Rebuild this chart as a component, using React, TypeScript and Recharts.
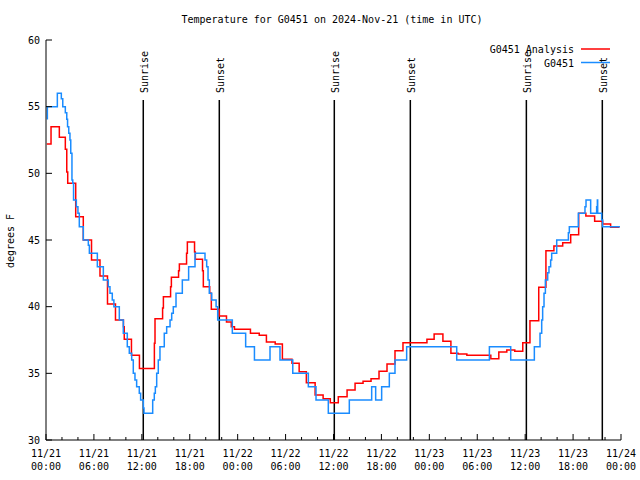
import React from 'react';
import { LineChart, Line, XAxis, YAxis, ReferenceLine } from 'recharts';

// ---- Data (hours since 2024-11-21 00:00 UTC, temperature °F) ----
const analysisSeries: [number, number][] = [
  [0.1, 52.2], [0.63, 53.5], [1.67, 52.7], [2.42, 51.8], [2.6, 50.1], [2.72, 49.25],
  [3.72, 46.75], [4.67, 45.0], [5.7, 43.5], [6.76, 42.3], [7.7, 40.2], [8.7, 39.0],
  [9.7, 38.5], [9.8, 37.55], [10.7, 36.35], [11.7, 35.37], [13.57, 37.25], [13.65, 39.1],
  [14.6, 39.9], [14.7, 40.75], [15.6, 41.5], [15.7, 42.2], [16.6, 42.7], [16.7, 43.2],
  [17.6, 44.0], [17.7, 44.85], [18.6, 44.1], [18.7, 43.55], [19.6, 42.7], [19.7, 41.5],
  [20.5, 41.0], [20.7, 39.8], [21.7, 39.3], [22.6, 38.85], [23.2, 38.5], [23.6, 38.3],
  [25.6, 38.0], [26.7, 37.85], [27.6, 37.35], [28.7, 37.2], [29.6, 36.05], [30.8, 35.75],
  [31.7, 35.12], [32.6, 34.3], [33.7, 33.37], [34.7, 33.1], [35.6, 32.8], [36.6, 33.25],
  [37.7, 33.75], [38.7, 34.25], [39.7, 34.4], [40.7, 34.6], [41.7, 35.15], [42.7, 35.7],
  [43.7, 36.7], [44.7, 37.3], [47.7, 37.55], [48.6, 37.95], [49.7, 37.4], [50.7, 36.5],
  [51.6, 36.45], [52.7, 36.35], [55.7, 36.1], [56.7, 36.6], [57.7, 36.75], [58.7, 36.65],
  [59.7, 37.3], [60.6, 38.95], [61.7, 41.45], [62.6, 44.2], [63.6, 44.55], [64.7, 44.8],
  [65.7, 45.4], [66.7, 47.0], [67.6, 46.8], [68.7, 46.4], [69.7, 46.2], [70.7, 45.95],
  [71.8, 45.95],
];

const observedSeries: [number, number][] = [
  [0.08, 54.1], [0.17, 55.0], [1.42, 56.0], [1.92, 55.6], [2.1, 55.0], [2.42, 54.55],
  [2.6, 54.05], [2.7, 53.5], [2.85, 53.0], [3.0, 52.5], [3.1, 51.5], [3.25, 49.5],
  [3.35, 49.25], [3.45, 48.0], [3.8, 47.5], [4.0, 47.0], [4.17, 46.0], [4.67, 45.0],
  [5.3, 44.6], [5.43, 44.0], [6.43, 43.0], [7.18, 42.0], [7.8, 41.5], [8.01, 41.0],
  [8.3, 40.5], [8.5, 40.0], [9.18, 39.0], [9.68, 38.0], [10.18, 37.0], [10.43, 36.5],
  [10.73, 36.0], [10.93, 35.0], [11.14, 34.5], [11.35, 34.0], [11.68, 33.5], [11.85, 33.0],
  [12.19, 32.4], [12.27, 32.0], [13.36, 33.0], [13.56, 33.5], [13.69, 34.0], [13.86, 35.0],
  [14.06, 36.0], [14.27, 37.0], [14.81, 38.0], [15.11, 38.5], [15.53, 39.0], [15.74, 39.5],
  [15.94, 40.0], [16.28, 41.0], [17.07, 42.0], [17.86, 43.0], [18.66, 44.0], [19.91, 43.5],
  [20.12, 43.0], [20.29, 42.0], [20.45, 41.0], [20.75, 40.5], [21.3, 40.0], [21.5, 39.0],
  [23.33, 38.0], [25.0, 37.0], [26.1, 36.0], [28.05, 37.0], [29.3, 36.0], [30.9, 35.0],
  [32.85, 34.0], [33.81, 33.0], [35.35, 32.0], [37.98, 33.0], [40.78, 34.0], [41.28, 33.0],
  [42.03, 34.0], [42.99, 35.0], [43.7, 36.0], [45.16, 37.0], [51.43, 36.0], [55.52, 37.0],
  [58.19, 36.0], [61.15, 37.0], [61.86, 38.0], [62.07, 39.0], [62.19, 40.0], [62.36, 41.0],
  [62.53, 42.0], [62.82, 42.55], [62.98, 43.0], [63.19, 43.5], [63.32, 44.0], [63.95, 45.0],
  [65.41, 45.55], [65.53, 46.0], [66.66, 47.0], [67.49, 47.5], [67.62, 48.0], [68.2, 47.0],
  [68.95, 47.5], [69.04, 48.0], [69.08, 47.0], [69.58, 46.5], [69.7, 46.0], [71.87, 46.0],
];

const sunEventHours = [12.18, 21.7, 36.1, 45.62, 60.15, 69.66];
const sunEventLabels = ['Sunrise', 'Sunset', 'Sunrise', 'Sunset', 'Sunrise', 'Sunset'];

const majorHours = [0, 6, 12, 18, 24, 30, 36, 42, 48, 54, 60, 66, 72];
const dateLabels = ['11/21', '11/21', '11/21', '11/21', '11/22', '11/22', '11/22', '11/22', '11/23', '11/23', '11/23', '11/23', '11/24'];
const timeLabels = ['00:00', '06:00', '12:00', '18:00', '00:00', '06:00', '12:00', '18:00', '00:00', '06:00', '12:00', '18:00', '00:00'];
const minorHours = [2, 4, 8, 10, 14, 16, 20, 22, 26, 28, 32, 34, 38, 40, 44, 46, 50, 52, 56, 58, 62, 64, 68, 70];
const yTicks = [30, 35, 40, 45, 50, 55, 60];

const TITLE = 'Temperature for G0451 on 2024-Nov-21 (time in UTC)';
const Y_LABEL = 'degrees F';
const SERIES_NAMES = ['G0451 Analysis', 'G0451'];

const FONT = '"DejaVu Sans Mono", "Liberation Mono", monospace';
const RED = '#ff0000';
const BLUE = '#1a8cff';

const allXTicks = [...majorHours, ...minorHours].sort((a, b) => a - b);
const analysisData = analysisSeries.map(([h, t]) => ({ h, t }));
const observedData = observedSeries.map(([h, t]) => ({ h, t }));

const BottomTick = (props: any) => {
  const { x, y, payload } = props;
  const idx = majorHours.indexOf(payload.value);
  const major = idx >= 0;
  return (
    <g>
      <line x1={x} x2={x} y1={y} y2={y - (major ? 6 : 3)} stroke="#000" strokeWidth={1} />
      {major && (
        <text x={x} y={y + 17} textAnchor="middle" fontFamily={FONT} fontSize={10} fill="#000">
          {dateLabels[idx]}
        </text>
      )}
      {major && (
        <text x={x} y={y + 30} textAnchor="middle" fontFamily={FONT} fontSize={10} fill="#000">
          {timeLabels[idx]}
        </text>
      )}
    </g>
  );
};

const TopTick = (props: any) => {
  const { x, y, payload } = props;
  const major = majorHours.indexOf(payload.value) >= 0;
  return <line x1={x} x2={x} y1={y} y2={y + (major ? 6 : 3)} stroke="#000" strokeWidth={1} />;
};

const LeftTick = (props: any) => {
  const { x, y, payload } = props;
  return (
    <g>
      <line x1={x} x2={x + 6} y1={y} y2={y} stroke="#000" strokeWidth={1} />
      <text x={x - 6} y={y} dy="0.35em" textAnchor="end" fontFamily={FONT} fontSize={10} fill="#000">
        {payload.value}
      </text>
    </g>
  );
};

const RightTick = (props: any) => {
  const { x, y } = props;
  return <line x1={x} x2={x - 6} y1={y} y2={y} stroke="#000" strokeWidth={1} />;
};

const SunLabel = (props: any) => {
  const { viewBox, text } = props;
  if (!viewBox) return null;
  const x = viewBox.x + 5;
  const y = viewBox.y - 7;
  return (
    <text x={x} y={y} transform={`rotate(-90, ${x}, ${y})`} textAnchor="start" fontFamily={FONT} fontSize={10} fill="#000">
      {text}
    </text>
  );
};

export default function App() {
  return (
    <div style={{ position: 'absolute', left: 0, top: 0, width: 640, height: 480, background: '#fff' }}>
      <LineChart width={640} height={480} margin={{ top: 40, right: 19, bottom: 0, left: 0 }}>
        <XAxis
          xAxisId="b"
          dataKey="h"
          type="number"
          domain={[0, 72]}
          allowDataOverflow
          ticks={allXTicks}
          interval={0}
          orientation="bottom"
          height={40}
          tickSize={0}
          tickMargin={0}
          tickLine={false}
          axisLine={{ stroke: '#000', strokeWidth: 1 }}
          tick={<BottomTick />}
        />
        <XAxis
          xAxisId="t"
          dataKey="h"
          type="number"
          domain={[0, 72]}
          allowDataOverflow
          ticks={allXTicks}
          interval={0}
          orientation="top"
          height={0}
          tickSize={0}
          tickMargin={0}
          tickLine={false}
          axisLine={{ stroke: '#000', strokeWidth: 1 }}
          tick={<TopTick />}
        />
        <YAxis
          yAxisId="l"
          type="number"
          domain={[30, 60]}
          allowDataOverflow
          ticks={yTicks}
          interval={0}
          width={46}
          tickSize={0}
          tickMargin={0}
          tickLine={false}
          axisLine={{ stroke: '#000', strokeWidth: 1 }}
          tick={<LeftTick />}
        />
        <YAxis
          yAxisId="r"
          orientation="right"
          type="number"
          domain={[30, 60]}
          allowDataOverflow
          ticks={yTicks}
          interval={0}
          width={0}
          tickSize={0}
          tickMargin={0}
          tickLine={false}
          axisLine={{ stroke: '#000', strokeWidth: 1 }}
          tick={<RightTick />}
        />
        {sunEventHours.map((h, i) => (
          <ReferenceLine
            key={`sun-${i}`}
            xAxisId="b"
            yAxisId="l"
            segment={[{ x: h, y: 55.5 }, { x: h, y: 30 }]}
            stroke="#000"
            strokeWidth={1.5}
            label={<SunLabel text={sunEventLabels[i]} />}
          />
        ))}
        <Line
          xAxisId="b"
          yAxisId="l"
          data={analysisData}
          dataKey="t"
          name={SERIES_NAMES[0]}
          type="stepAfter"
          stroke={RED}
          strokeWidth={1.5}
          dot={false}
          activeDot={false}
          isAnimationActive={false}
        />
        <Line
          xAxisId="b"
          yAxisId="l"
          data={observedData}
          dataKey="t"
          name={SERIES_NAMES[1]}
          type="stepAfter"
          stroke={BLUE}
          strokeWidth={1.5}
          dot={false}
          activeDot={false}
          isAnimationActive={false}
        />
        <text x={332} y={23} textAnchor="middle" fontFamily={FONT} fontSize={10} fill="#000">
          {TITLE}
        </text>
        <text x={14} y={241} transform="rotate(-90, 14, 241)" textAnchor="middle" fontFamily={FONT} fontSize={10} fill="#000">
          {Y_LABEL}
        </text>
        <g>
          <text x={574} y={53} textAnchor="end" fontFamily={FONT} fontSize={10} fill="#000">
            {SERIES_NAMES[0]}
          </text>
          <line x1={581} x2={610} y1={49} y2={49} stroke={RED} strokeWidth={1.5} />
          <text x={574} y={66.5} textAnchor="end" fontFamily={FONT} fontSize={10} fill="#000">
            {SERIES_NAMES[1]}
          </text>
          <line x1={581} x2={610} y1={62.5} y2={62.5} stroke={BLUE} strokeWidth={1.5} />
        </g>
      </LineChart>
    </div>
  );
}
